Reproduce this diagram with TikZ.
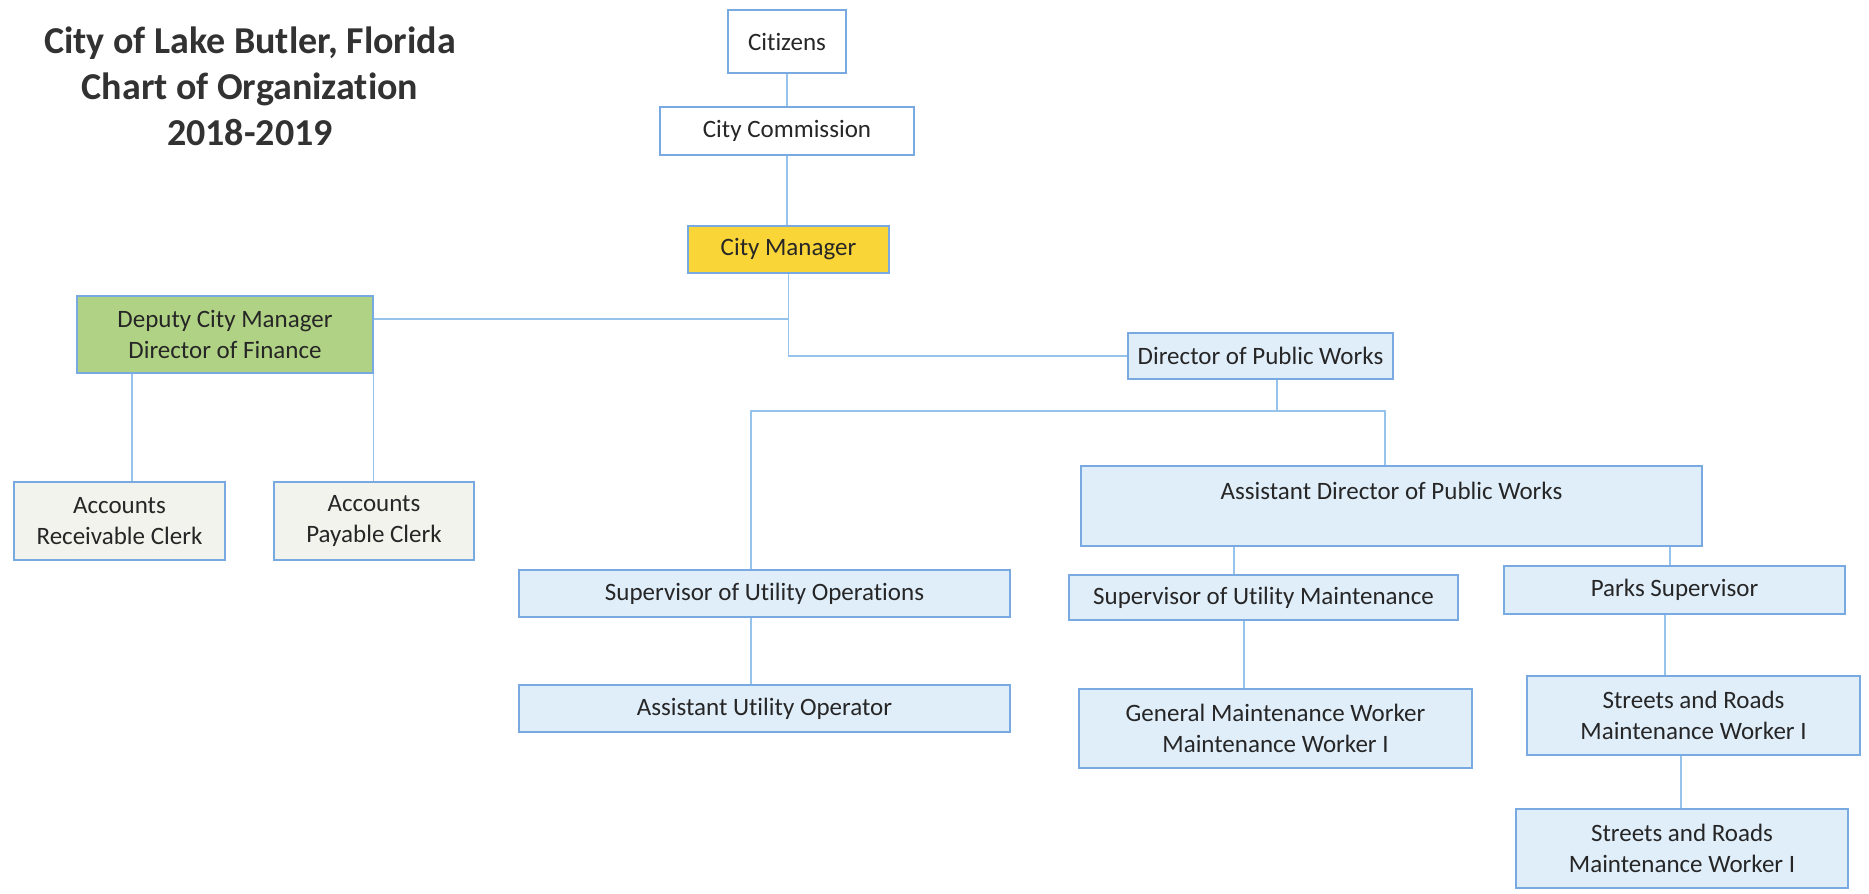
\documentclass[tikz,border=0pt]{standalone}
\usepackage{fontspec}
\setmainfont[Ligatures=NoCommon]{Carlito}
\definecolor{bordc}{RGB}{120,170,225}
\definecolor{linec}{RGB}{150,195,235}
\definecolor{lblue}{RGB}{224,238,250}
\definecolor{yell}{RGB}{250,213,55}
\definecolor{grn}{RGB}{176,210,132}
\definecolor{clerk}{RGB}{242,243,236}
\definecolor{txt}{RGB}{38,38,38}
\definecolor{ttl}{RGB}{50,50,50}
\begin{document}
\begin{tikzpicture}[x=1pt,y=-1pt,
  box/.style={draw=bordc,line width=1.5pt,inner sep=0pt,align=center,text=txt,
    font=\fontsize{25}{31}\selectfont},
  wbox/.style={box,fill=white},
  bbox/.style={box,fill=lblue},
  conn/.style={draw=linec,line width=1.3pt}]
\useasboundingbox (0,0) rectangle (1869,894);
\fill[white] (0,0) rectangle (1869,894);
% title
\node[text=ttl,font=\fontsize{38}{46}\bfseries\selectfont,align=center] (title) at (250,86)
  {City of Lake Butler, Florida\\Chart of Organization\\2018-2019};
% nodes
\node[wbox,minimum width=118pt,minimum height=63pt] (cit) at (787,41.5) {Citizens};
\node[wbox,minimum width=254pt,minimum height=48pt] (cc) at (787,131) {City Commission};
\node[box,fill=yell,minimum width=201pt,minimum height=47pt] (cm) at (788.5,249.5) {City Manager};
\node[box,fill=grn,minimum width=296pt,minimum height=77pt] (dep) at (225,334.5) {Deputy City Manager\\Director of Finance};
\node[bbox,minimum width=265pt,minimum height=46pt] (dpw) at (1260.5,356) {Director of Public Works};
\node[box,fill=clerk,minimum width=211pt,minimum height=78pt] (ar) at (119.5,521) {Accounts\\Receivable Clerk};
\node[box,fill=clerk,minimum width=200pt,minimum height=78pt] (ap) at (374,521) {Accounts\\Payable Clerk};
\node[bbox,minimum width=621pt,minimum height=80pt] (ad) at (1391.5,506) {Assistant Director of Public Works\\\mbox{}};
\node[bbox,minimum width=491pt,minimum height=47pt] (suo) at (764.5,593.5) {Supervisor of Utility Operations};
\node[bbox,minimum width=491pt,minimum height=47pt] (auo) at (764.5,708.5) {Assistant Utility Operator};
\node[bbox,minimum width=389pt,minimum height=45pt] (sum) at (1263.5,597.5) {Supervisor of Utility Maintenance};
\node[bbox,minimum width=341pt,minimum height=48pt] (parks) at (1674.5,590) {Parks Supervisor};
\node[bbox,minimum width=393pt,minimum height=79pt] (gmw) at (1275.5,728.5) {General Maintenance Worker\\Maintenance Worker I};
\node[bbox,minimum width=333pt,minimum height=79pt] (s1) at (1693.5,715.5) {Streets and Roads\\Maintenance Worker I};
\node[bbox,minimum width=332pt,minimum height=79pt] (s2) at (1682,848.5) {Streets and Roads\\Maintenance Worker I};
% junction coordinates
\coordinate (dj) at (788.5,319);
\coordinate (busL) at (751,411);
\coordinate (busR) at (1385,411);
\coordinate (busM) at (1277,411);
% connectors
\draw[conn] (cit.south) -- (cc.north);
\draw[conn] (cc.south) -- (cc.south |- cm.north);
\draw[conn] (cm.south) |- (dpw.west);
\draw[conn] (dep.east |- dj) -- (dj);
\draw[conn] (ar.north -| 132,0) -- (dep.south -| 132,0);
\draw[conn] (ap.north -| dep.east) -- (dep.south -| dep.east);
\draw[conn] (dpw.south -| busM) -- (busM);
\draw[conn] (suo.north -| busL) -- (busL) -- (busR) -- (ad.north -| busR);
\draw[conn] (suo.south -| busL) -- (auo.north -| busL);
\draw[conn] (ad.south -| 1234,0) -- (sum.north -| 1234,0);
\draw[conn] (ad.south -| 1670,0) -- (parks.north -| 1670,0);
\draw[conn] (sum.south -| 1244,0) -- (gmw.north -| 1244,0);
\draw[conn] (parks.south -| 1665,0) -- (s1.north -| 1665,0);
\draw[conn] (s1.south -| 1681,0) -- (s2.north -| 1681,0);
\end{tikzpicture}
\end{document}
